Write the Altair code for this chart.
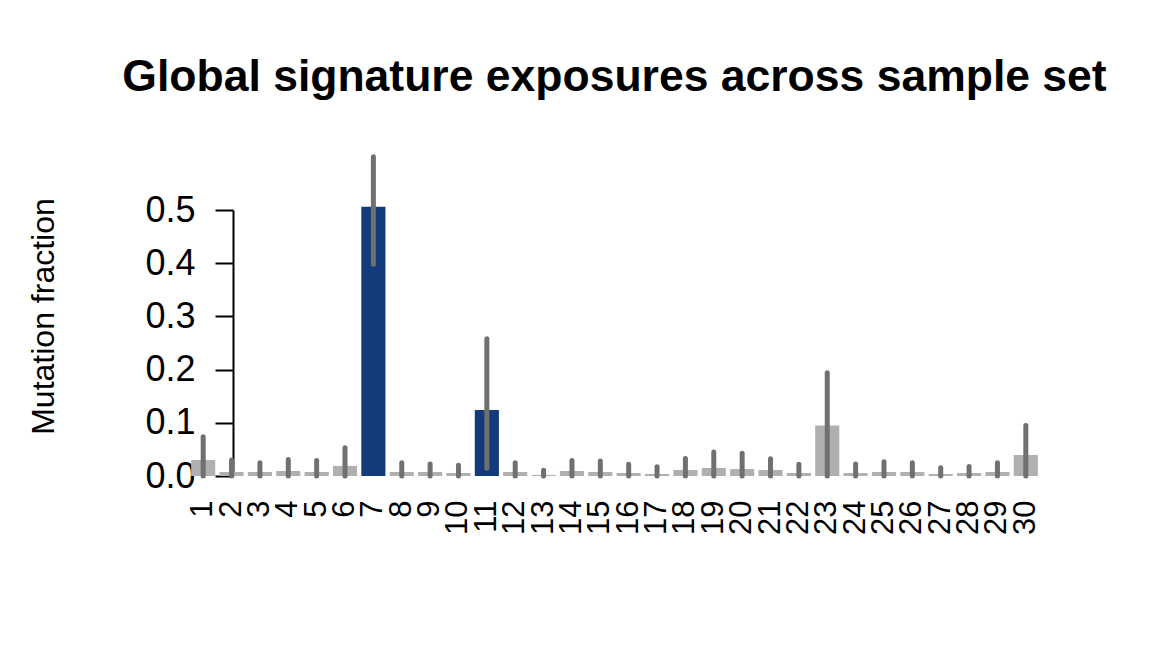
import altair as alt
import pandas as pd

signatures = [str(i) for i in range(1, 31)]
exposure = [0.030, 0.0075, 0.0075, 0.0094, 0.0075, 0.019, 0.506, 0.0075, 0.0075, 0.0056,
            0.124, 0.0075, 0.002, 0.0094, 0.0075, 0.0056, 0.0038, 0.0113, 0.015, 0.013,
            0.0113, 0.0056, 0.0947, 0.0056, 0.0075, 0.0075, 0.0038, 0.0056, 0.0075, 0.0395]
err_low = [0.0, 0.0, 0.0, 0.0, 0.0, 0.0, 0.398, 0.0, 0.0, 0.0,
           0.0145, 0.0, 0.0, 0.0, 0.0, 0.0, 0.0, 0.0, 0.0, 0.0,
           0.0, 0.0, 0.0, 0.0, 0.0, 0.0, 0.0, 0.0, 0.0, 0.0]
err_high = [0.074, 0.030, 0.025, 0.031, 0.029, 0.053, 0.600, 0.025, 0.0226, 0.020,
            0.258, 0.025, 0.011, 0.029, 0.028, 0.022, 0.0175, 0.033, 0.045, 0.0427,
            0.0326, 0.022, 0.194, 0.0226, 0.027, 0.025, 0.0156, 0.018, 0.025, 0.095]
highlighted = ["7", "11"]

df = pd.DataFrame({
    "sig": signatures,
    "exposure": exposure,
    "lo": err_low,
    "hi": err_high,
    "group": ["hi" if s in highlighted else "lo" for s in signatures],
})

FONT = "Liberation Sans"

x = alt.X("sig:N", sort=signatures, title=None,
          scale=alt.Scale(paddingInner=0.15, paddingOuter=0.075),
          axis=alt.Axis(labelAngle=-90, labelFontSize=31, labelColor="black",
                        labelFont=FONT, ticks=False, domain=False, labelPadding=24,
                        labelOverlap=False))

yscale = alt.Scale(domain=[0, 0.5], nice=False, zero=True)

bars = alt.Chart(df).mark_bar().encode(
    x=x,
    y=alt.Y("exposure:Q", scale=yscale, title="Mutation fraction",
            axis=alt.Axis(values=[0, 0.1, 0.2, 0.3, 0.4, 0.5], format=".1f",
                          labelFontSize=36, labelFont=FONT, labelColor="black",
                          tickSize=18, tickColor="black", tickWidth=2,
                          domainColor="black", domainWidth=2, grid=False,
                          offset=-44, labelPadding=20,
                          titleFont=FONT, titleFontSize=32, titleFontWeight="normal",
                          titleColor="black", titleX=-190, titleY=106,
                          titleBaseline="middle", titleAngle=-90)),
    color=alt.Color("group:N", legend=None,
                    scale=alt.Scale(domain=["hi", "lo"], range=["#133A7A", "#B0B0B0"])),
)

errs = alt.Chart(df).mark_rule(strokeWidth=5, strokeCap="round", color="#707070").encode(
    x=alt.X("sig:N", sort=signatures),
    y=alt.Y("lo:Q", scale=yscale),
    y2="hi:Q",
)

chart = (bars + errs).properties(
    width=851, height=266,
    autosize=alt.AutoSizeParams(type="none"),
    padding={"left": 181, "top": 202, "right": 104, "bottom": 180},
    title=alt.TitleParams("Global signature exposures across sample set",
                          font=FONT, fontSize=44.5, fontWeight="bold", color="black",
                          anchor="middle", offset=54),
).configure_view(stroke=None)

chart.save("out.html", embed_options={"renderer": "svg", "actions": False})
